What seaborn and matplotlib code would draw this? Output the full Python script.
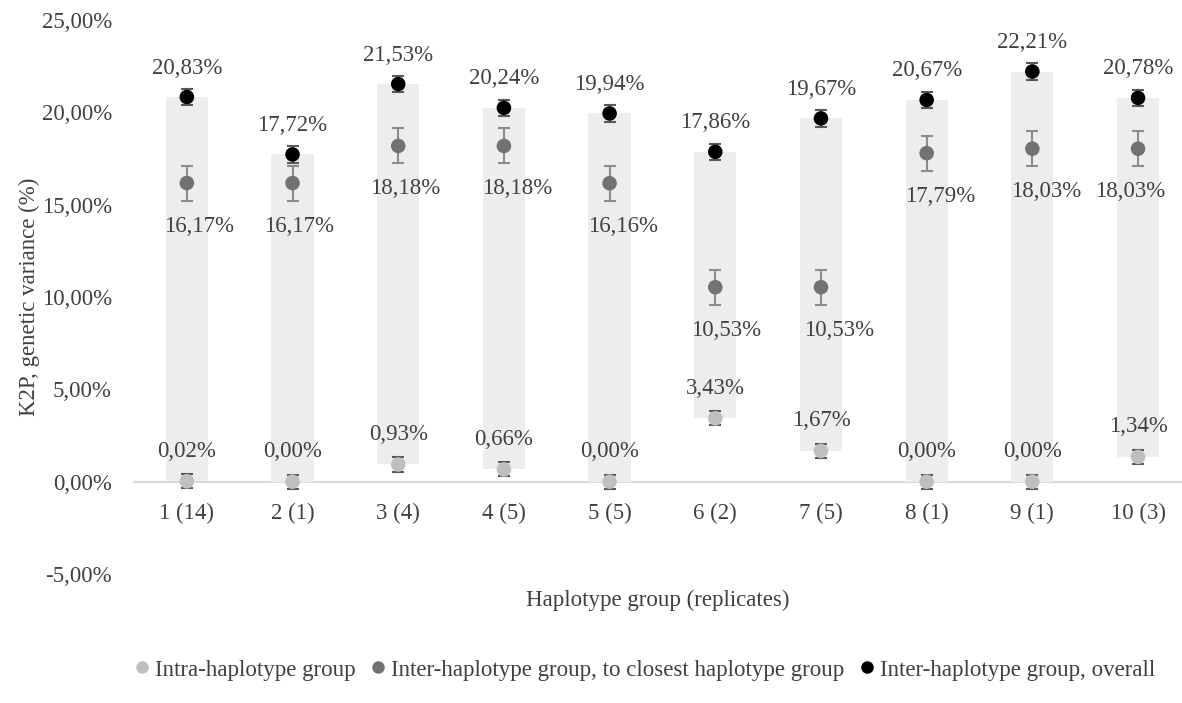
import numpy as np
import pandas as pd
import matplotlib
matplotlib.use("Agg")
import matplotlib.pyplot as plt
import seaborn as sns
from matplotlib.ticker import FuncFormatter, MultipleLocator
from matplotlib.lines import Line2D

# ---- data ----
groups = ["1 (14)", "2 (1)", "3 (4)", "4 (5)", "5 (5)", "6 (2)", "7 (5)", "8 (1)", "9 (1)", "10 (3)"]
intra = [0.02, 0.00, 0.93, 0.66, 0.00, 3.43, 1.67, 0.00, 0.00, 1.34]
closest = [16.17, 16.17, 18.18, 18.18, 16.16, 10.53, 10.53, 17.79, 18.03, 18.03]
overall = [20.83, 17.72, 21.53, 20.24, 19.94, 17.86, 19.67, 20.67, 22.21, 20.78]
intra_err = [0.38, 0.38, 0.38, 0.38, 0.38, 0.38, 0.38, 0.38, 0.38, 0.38]
closest_err = [0.95, 0.95, 0.95, 0.95, 0.95, 0.95, 0.95, 0.95, 0.95, 0.95]
overall_err = [0.45, 0.45, 0.45, 0.45, 0.45, 0.45, 0.45, 0.45, 0.45, 0.45]
series_names = ["Intra-haplotype group",
                "Inter-haplotype group, to closest haplotype group",
                "Inter-haplotype group, overall"]
series_colors = ["#bfbfbf", "#767171", "#000000"]
# horizontal nudges (pixels) of the "closest" data labels, as in the reference
closest_label_dx = [12, 7, 7, 13, 13, 11, 18, 14, 14, -8]

sns.set_theme(style="white")
plt.rcParams["font.family"] = ["Liberation Serif", "DejaVu Serif"]
TXT = "#404040"
FS = 16.5

x = np.arange(len(groups))
rows = []
for name, vals in zip(series_names, [intra, closest, overall]):
    for xi, v in zip(x, vals):
        rows.append({"x": xi, "value": v, "series": name})
df = pd.DataFrame(rows)

fig = plt.figure(figsize=(11.82, 7.03), dpi=100)
W, H = 1182, 703
ax = fig.add_axes([134 / W, (H - 574) / H, (1182 - 134) / W, (574 - 20) / H])

# floating range bars from intra to overall
ax.bar(x, np.array(overall) - np.array(intra), bottom=intra, width=0.4,
       color="#ededed", edgecolor="none", zorder=1)

# error bars
for vals, errs, ecol in [(intra, intra_err, "#595959"),
                         (closest, closest_err, "#8c8c8c"),
                         (overall, overall_err, "#595959")]:
    ax.errorbar(x, vals, yerr=errs, fmt="none", ecolor=ecol, elinewidth=1.5,
                capsize=4.5, capthick=1.5, zorder=2)

sns.scatterplot(data=df, x="x", y="value", hue="series", palette=series_colors,
                hue_order=series_names, s=110, edgecolor="none", legend=False,
                ax=ax, zorder=3)

def fmt(v):
    return f"{v:.2f}%".replace(".", ",")

for xi, v in zip(x, overall):
    ax.annotate(fmt(v), (xi, v), xytext=(0, 29), textcoords="offset pixels",
                ha="center", va="center", fontsize=FS, color=TXT)
for xi, v in zip(x, intra):
    ax.annotate(fmt(v), (xi, v), xytext=(0, 30), textcoords="offset pixels",
                ha="center", va="center", fontsize=FS, color=TXT)
for xi, v, dx in zip(x, closest, closest_label_dx):
    ax.annotate(fmt(v), (xi, v), xytext=(dx, -43), textcoords="offset pixels",
                ha="center", va="center", fontsize=FS, color=TXT)

ax.set_ylim(-5, 25)
ax.set_xlim(-0.5, 9.416)
ax.yaxis.set_major_locator(MultipleLocator(5))
ax.yaxis.set_major_formatter(FuncFormatter(lambda v, p: fmt(v)))
ax.set_xticks(x)
ax.set_xticklabels(groups)
ax.tick_params(axis="both", length=0, labelsize=FS, labelcolor=TXT)
ax.tick_params(axis="y", pad=16)
ax.tick_params(axis="x", pad=15)

for s in ["top", "right", "left"]:
    ax.spines[s].set_visible(False)
ax.spines["bottom"].set_position(("data", 0))
ax.spines["bottom"].set_color("#d9d9d9")
ax.spines["bottom"].set_linewidth(1.5)
ax.spines["bottom"].set_zorder(0.5)
ax.grid(False)

ax.set_xlabel("Haplotype group (replicates)", fontsize=FS, color=TXT, va="center")
ax.xaxis.set_label_coords(0.5, (574 - 600) / 554)
ax.set_ylabel("K2P, genetic variance (%)", fontsize=FS, color=TXT, va="center")
ax.yaxis.set_label_coords((29 - 134) / 1048, 0.5)

handles = [Line2D([0], [0], marker="o", linestyle="none", markersize=9,
                  markerfacecolor=c, markeredgecolor="none") for c in series_colors]
fig.legend(handles, series_names, loc="center", bbox_to_anchor=(645 / W, 1 - 670 / H),
           ncol=3, frameon=False, fontsize=FS, handlelength=0.6, handletextpad=0.25,
           columnspacing=0.7, labelcolor=TXT)

fig.savefig("out.png", dpi=100)
